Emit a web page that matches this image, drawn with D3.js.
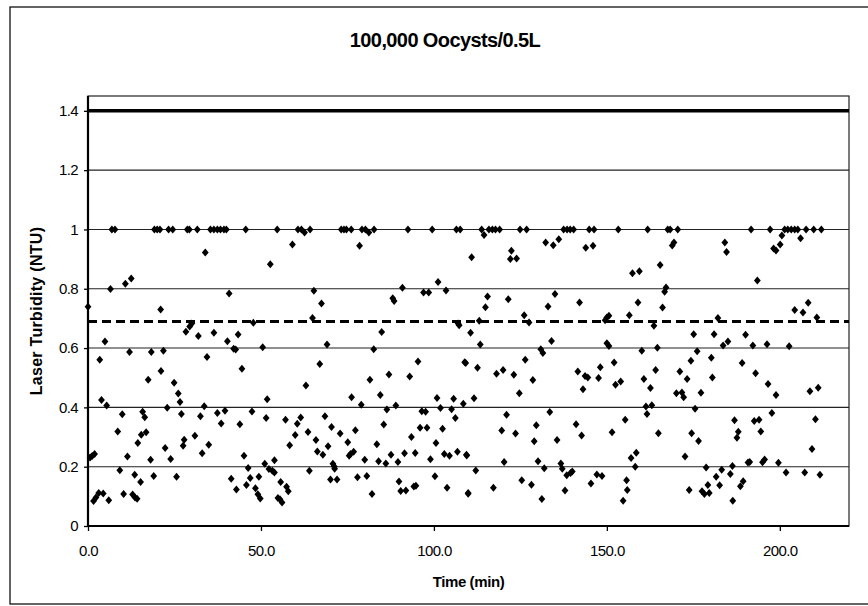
<!DOCTYPE html>
<html>
<head>
<meta charset="utf-8">
<script src="https://cdn.jsdelivr.net/npm/d3@7/dist/d3.min.js"></script>
<style>
  html, body { margin: 0; padding: 0; background: #fff; }
  svg { display: block; font-family: "Liberation Sans", Arial, sans-serif; }
</style>
</head>
<body>
<svg id="chart" width="868" height="606"></svg>
<script>
// ---------------- data ----------------
const titleText = "100,000 Oocysts/0.5L";
const xLabel = "Time (min)";
const yLabel = "Laser Turbidity (NTU)";
const xTicks = [0, 50, 100, 150, 200];
const yTicks = [0, 0.2, 0.4, 0.6, 0.8, 1, 1.2, 1.4];
const limitLevel = 1.4;      // thick solid line
const averageLevel = 0.69;   // dashed line

// time (min) of each reading
const time = [
  // readings at the 1.0 cap
  6.9, 7.8, 19.2, 20.0, 20.8, 23.3, 24.5, 28.7, 29.3, 31.6, 35.4, 36.4, 37.4, 38.3, 39.3, 40.0, 45.6, 54.7,
  60.7, 61.7, 62.6, 64.2, 73.2, 74.0, 74.7, 76.1, 79.2, 80.2, 81.2, 82.7, 92.5, 99.5, 106.5, 107.6,
  113.8, 115.9, 116.9, 117.8, 119.0, 124.9, 126.8, 137.5, 138.5, 139.4, 140.4, 144.9, 146.3, 153.3, 161.8,
  167.6, 168.3, 170.5, 191.7, 197.2, 200.6, 201.4, 202.3, 203.3, 204.3, 205.2, 207.6, 209.8, 212.0,
  // 0 - 55 min
  33.9, 52.7, 12.5, 10.8, 6.5, 40.8, 0.0, 21.0, 30.0, 29.4, 47.8, 28.3, 31.9, 36.4, 43.4, 40.3, 4.9, 42.1, 42.7, 50.5,
  12.0, 18.3, 21.8, 3.4, 34.4, 44.5, 21.1, 17.4, 24.9, 26.1, 26.6, 3.9, 5.4, 51.8, 22.9, 33.6, 9.9, 15.8, 16.4, 27.0,
  32.5, 37.4, 39.6, 47.4, 51.5, 38.5, 43.9, 8.6, 16.8, 15.4, 30.9, 27.8, 27.5, 14.4, 34.9, 22.3, 33.0, 1.2, 1.9, 0.6,
  11.4, 45.1, 18.1, 23.9, 53.9, 51.1, 9.2, 46.3, 52.3, 53.3, 53.9, 13.5, 25.6, 19.0, 41.4, 46.9, 49.4, 15.2, 48.4, 42.9,
  45.8, 3.1, 4.4, 2.3, 1.6, 6.0, 10.3, 12.9, 13.6, 14.2, 49.1, 49.8, 54.9,
  // 55 - 110 min
  59.1, 78.5, 101.2, 90.9, 65.3, 97.0, 98.5, 103.5, 88.1, 88.5, 67.5, 64.9, 107.0, 107.3, 84.9, 69.1, 82.6, 67.0, 95.4, 108.9,
  87.0, 93.0, 81.5, 63.0, 76.2, 84.5, 100.9, 105.7, 79.0, 89.0, 108.5, 101.9, 86.4, 105.1, 96.5, 97.6, 68.5, 57.1, 61.5, 60.5,
  106.2, 85.5, 70.4, 77.3, 63.6, 96.0, 98.0, 102.5, 59.9, 72.9, 93.5, 65.9, 75.1, 58.3, 69.4, 83.5, 100.6, 66.3, 67.9, 76.8,
  75.9, 75.5, 91.5, 94.6, 87.6, 103.0, 104.5, 106.8, 109.4, 80.0, 84.0, 86.1, 89.6, 99.0, 70.8, 71.2, 71.3, 64.0, 55.7, 70.1,
  72.0, 77.9, 80.6, 89.9, 100.3, 57.4, 57.9, 90.4, 91.9, 94.2, 94.8, 103.8, 109.9, 82.1, 55.5, 56.1,
  // 110 - 165 min
  114.5, 110.9, 132.3, 134.5, 136.1, 122.4, 122.1, 123.9, 143.9, 146.0, 157.4, 159.4, 165.4, 115.5, 121.5, 135.0, 114.9, 133.0, 142.1, 159.0,
  126.1, 127.5, 113.1, 149.5, 150.0, 150.6, 156.5, 163.6, 110.6, 113.4, 134.0, 150.0, 150.6, 164.6, 130.9, 131.5, 160.1, 109.2, 112.6, 126.4,
  118.1, 120.0, 123.1, 128.6, 141.6, 143.7, 144.5, 148.1, 147.6, 152.1, 152.5, 154.0, 164.1, 160.7, 162.6, 143.1, 124.7, 111.6, 121.0, 133.5,
  161.3, 163.0, 161.6, 119.6, 123.6, 129.6, 129.0, 135.6, 141.1, 142.7, 151.5, 155.3, 164.9, 109.5, 112.1, 120.3, 130.1, 131.9, 136.7, 137.1,
  138.4, 139.5, 140.0, 157.0, 158.5, 158.2, 109.9, 117.2, 125.4, 128.2, 131.2, 137.9, 145.4, 147.1, 148.6, 155.7, 155.9, 154.7,
  // 165 - 212 min
  168.9, 169.4, 184.1, 184.6, 198.2, 198.9, 200.1, 206.0, 193.5, 167.1, 166.7, 166.1, 204.3, 206.7, 208.2, 182.1, 210.7, 175.1, 181.0, 190.1,
  185.0, 183.6, 192.2, 196.3, 202.7, 176.1, 174.3, 180.2, 189.1, 171.1, 173.2, 180.5, 193.0, 196.6, 198.9, 208.7, 211.1, 170.1, 171.7, 172.2,
  177.2, 175.5, 197.7, 186.9, 192.6, 194.0, 194.5, 210.3, 174.5, 176.5, 188.0, 187.6, 172.6, 209.3, 178.7, 183.2, 181.6, 186.3, 185.7, 190.8,
  191.3, 195.0, 195.6, 199.6, 201.8, 207.2, 211.6, 173.8, 177.5, 178.2, 179.6, 179.2, 182.6, 189.4, 188.6, 186.4
];

// laser turbidity (NTU) of each reading, same order as time
const turbidity = [
  1, 1, 1, 1, 1, 1, 1, 1, 1, 1, 1, 1, 1, 1, 1, 1, 1, 1,
  1, 1, 0.99, 1, 1, 1, 1, 1, 1, 1, 0.99, 1, 1, 1, 1, 1,
  1, 1, 1, 1, 1, 1, 1, 1, 1, 1, 1, 1, 1, 1, 1,
  1, 1, 1, 1, 1, 0.98, 1, 1, 1, 1, 1, 1, 1, 1,
  // 0 - 55 min
  0.922, 0.883, 0.835, 0.817, 0.799, 0.784, 0.739, 0.730, 0.683, 0.673, 0.685, 0.655, 0.641, 0.652, 0.646, 0.623, 0.622, 0.598, 0.595, 0.603,
  0.587, 0.587, 0.591, 0.561, 0.570, 0.530, 0.523, 0.493, 0.483, 0.447, 0.418, 0.425, 0.406, 0.427, 0.399, 0.404, 0.377, 0.385, 0.367, 0.378,
  0.370, 0.381, 0.389, 0.386, 0.364, 0.346, 0.343, 0.319, 0.316, 0.308, 0.304, 0.291, 0.271, 0.280, 0.274, 0.263, 0.245, 0.236, 0.243, 0.231,
  0.234, 0.237, 0.223, 0.226, 0.222, 0.210, 0.188, 0.196, 0.192, 0.186, 0.180, 0.173, 0.166, 0.169, 0.159, 0.162, 0.166, 0.148, 0.127, 0.123,
  0.138, 0.111, 0.110, 0.096, 0.084, 0.087, 0.108, 0.106, 0.096, 0.092, 0.107, 0.093, 0.094,
  // 55 - 110 min
  0.949, 0.945, 0.823, 0.803, 0.793, 0.787, 0.787, 0.794, 0.768, 0.759, 0.750, 0.701, 0.683, 0.677, 0.654, 0.612, 0.596, 0.546, 0.555, 0.552,
  0.511, 0.504, 0.493, 0.474, 0.434, 0.442, 0.432, 0.429, 0.409, 0.406, 0.412, 0.398, 0.393, 0.394, 0.387, 0.385, 0.370, 0.358, 0.366, 0.345,
  0.364, 0.342, 0.334, 0.323, 0.317, 0.331, 0.331, 0.328, 0.307, 0.312, 0.300, 0.290, 0.282, 0.272, 0.269, 0.276, 0.280, 0.251, 0.240, 0.250,
  0.243, 0.237, 0.245, 0.246, 0.240, 0.243, 0.237, 0.250, 0.240, 0.223, 0.218, 0.211, 0.216, 0.225, 0.210, 0.201, 0.193, 0.186, 0.148, 0.157,
  0.157, 0.164, 0.169, 0.150, 0.168, 0.132, 0.117, 0.118, 0.120, 0.133, 0.136, 0.129, 0.111, 0.108, 0.090, 0.079,
  // 110 - 165 min
  0.981, 0.906, 0.956, 0.947, 0.967, 0.928, 0.900, 0.902, 0.938, 0.945, 0.852, 0.859, 0.880, 0.774, 0.765, 0.782, 0.738, 0.740, 0.754, 0.754,
  0.711, 0.686, 0.692, 0.694, 0.703, 0.709, 0.711, 0.675, 0.652, 0.612, 0.624, 0.616, 0.607, 0.601, 0.596, 0.583, 0.591, 0.550, 0.534, 0.561,
  0.513, 0.526, 0.510, 0.492, 0.521, 0.506, 0.501, 0.535, 0.499, 0.551, 0.476, 0.487, 0.526, 0.496, 0.465, 0.461, 0.448, 0.431, 0.375, 0.384,
  0.403, 0.407, 0.378, 0.322, 0.312, 0.340, 0.286, 0.290, 0.343, 0.305, 0.316, 0.358, 0.313, 0.238, 0.187, 0.216, 0.218, 0.195, 0.211, 0.193,
  0.171, 0.179, 0.184, 0.229, 0.247, 0.200, 0.109, 0.129, 0.154, 0.139, 0.091, 0.120, 0.143, 0.174, 0.169, 0.154, 0.121, 0.085,
  // 165 - 212 min
  0.946, 0.956, 0.956, 0.924, 0.936, 0.929, 0.949, 0.970, 0.828, 0.804, 0.790, 0.737, 0.728, 0.720, 0.753, 0.701, 0.703, 0.647, 0.647, 0.645,
  0.622, 0.609, 0.609, 0.613, 0.606, 0.589, 0.557, 0.567, 0.550, 0.521, 0.496, 0.501, 0.515, 0.479, 0.442, 0.454, 0.466, 0.448, 0.450, 0.434,
  0.449, 0.395, 0.381, 0.357, 0.354, 0.358, 0.319, 0.360, 0.313, 0.287, 0.318, 0.298, 0.234, 0.260, 0.197, 0.190, 0.166, 0.202, 0.175, 0.214,
  0.216, 0.215, 0.224, 0.213, 0.180, 0.180, 0.173, 0.121, 0.117, 0.108, 0.111, 0.138, 0.137, 0.151, 0.134, 0.085
];

// ---------------- drawing ----------------
const svg = d3.select("#chart");
const plot = { left: 88, right: 849, top: 96, bottom: 526 };

const x = d3.scaleLinear().domain([0, 220]).range([plot.left, plot.right]);
const y = d3.scaleLinear().domain([0, 1.45]).range([plot.bottom, plot.top]);

// outer chart border
svg.append("rect")
  .attr("x", 10).attr("y", 7)
  .attr("width", 880).attr("height", 597)
  .attr("fill", "none").attr("stroke", "#111").attr("stroke-width", 1.3);

// title
svg.append("text")
  .attr("x", 445).attr("y", 47)
  .attr("text-anchor", "middle")
  .attr("font-size", 20).attr("font-weight", "bold")
  .attr("letter-spacing", "-0.6px")
  .attr("fill", "#000")
  .text(titleText);

// plot frame (top / right)
svg.append("rect")
  .attr("x", plot.left).attr("y", plot.top)
  .attr("width", plot.right - plot.left).attr("height", plot.bottom - plot.top)
  .attr("fill", "none").attr("stroke", "#222").attr("stroke-width", 1.2);

// horizontal gridlines
svg.append("g")
  .selectAll("line")
  .data(yTicks.filter(d => d > 0 && d !== limitLevel))
  .join("line")
  .attr("x1", plot.left).attr("x2", plot.right)
  .attr("y1", d => y(d)).attr("y2", d => y(d))
  .attr("stroke", "#222").attr("stroke-width", 1.1);

// limit line at 1.4
svg.append("line")
  .attr("x1", plot.left).attr("x2", plot.right)
  .attr("y1", y(limitLevel)).attr("y2", y(limitLevel))
  .attr("stroke", "#000").attr("stroke-width", 3.5);

// dashed average line
svg.append("line")
  .attr("x1", plot.left).attr("x2", plot.right)
  .attr("y1", y(averageLevel)).attr("y2", y(averageLevel))
  .attr("stroke", "#000").attr("stroke-width", 3)
  .attr("stroke-dasharray", "9,5");

// axes
const yAxis = d3.axisLeft(y)
  .tickValues(yTicks)
  .tickFormat(d => d3.format("~g")(d))
  .tickSize(4).tickPadding(6);
const gy = svg.append("g").attr("transform", `translate(${plot.left},0)`).call(yAxis);

const xAxis = d3.axisBottom(x)
  .tickValues(xTicks)
  .tickFormat(d3.format(".1f"))
  .tickSize(5).tickPadding(14);
const gx = svg.append("g").attr("transform", `translate(0,${plot.bottom})`).call(xAxis);

[gx, gy].forEach(g => {
  g.select(".domain").attr("stroke", "#000").attr("stroke-width", 2.2);
  g.selectAll(".tick line").attr("stroke", "#000").attr("stroke-width", 1.3);
  g.selectAll(".tick text")
    .attr("font-size", 15)
    .attr("letter-spacing", "-0.6px")
    .attr("fill", "#000")
    .attr("font-family", "'Liberation Sans', Arial, sans-serif");
});
gx.select(".domain").attr("d", `M${plot.left},0H${plot.right}`);
gy.select(".domain").attr("d", `M0,${plot.bottom}V${plot.top}`);

// axis titles
svg.append("text")
  .attr("x", (plot.left + plot.right) / 2).attr("y", 587)
  .attr("text-anchor", "middle")
  .attr("font-size", 15).attr("font-weight", "bold")
  .attr("letter-spacing", "-0.4px")
  .text(xLabel);

svg.append("text")
  .attr("transform", `translate(42,${(plot.top + plot.bottom) / 2}) rotate(-90)`)
  .attr("text-anchor", "middle")
  .attr("font-size", 16).attr("font-weight", "bold")
  .attr("letter-spacing", "0.3px")
  .text(yLabel);

// diamond markers
const diamond = "M0,-4L3.4,0L0,4L-3.4,0Z";
svg.append("g")
  .selectAll("path")
  .data(d3.range(time.length))
  .join("path")
  .attr("d", diamond)
  .attr("transform", i => `translate(${x(time[i])},${y(turbidity[i])})`)
  .attr("fill", "#000");
</script>
</body>
</html>
